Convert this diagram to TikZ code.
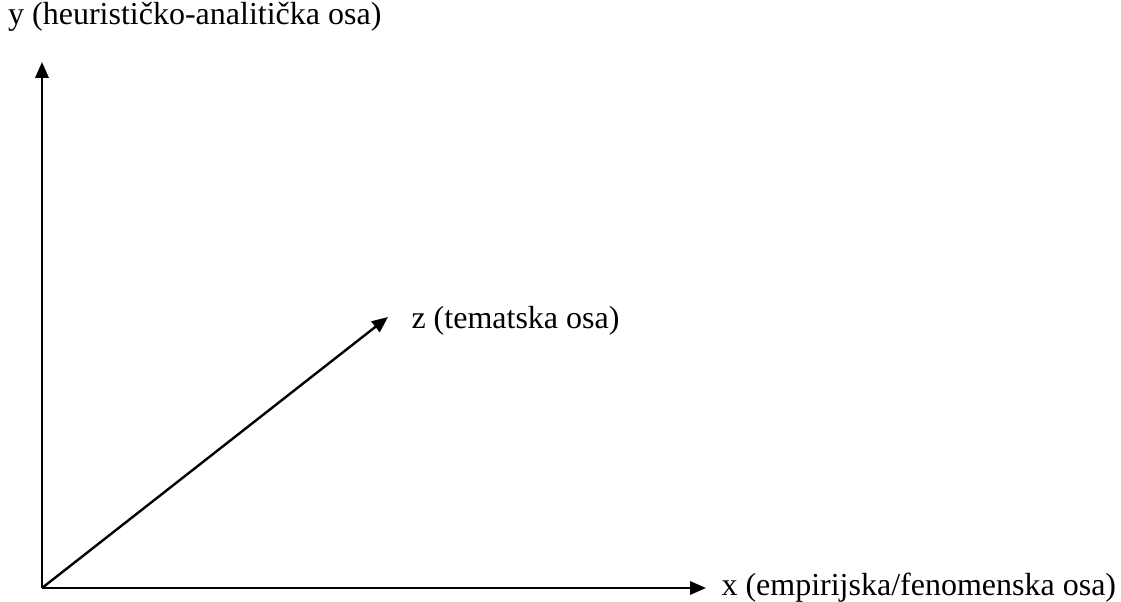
\documentclass[tikz,border=0pt]{standalone}
\usepackage{fontspec}
\setmainfont{Liberation Serif}
\usetikzlibrary{arrows.meta,positioning}

\tikzset{every picture/.style={line width=1.8pt}}
\tikzset{
  axis/.style={-{Triangle[length=12pt,width=10pt]}},
  axislabel/.style={inner sep=0.75pt,font=\fontsize{24}{28}\selectfont}
}

\begin{document}
\begin{tikzpicture}[x=0.75pt,y=0.75pt,yscale=-1,xscale=1]
\useasboundingbox (0,0) rectangle (1121,602);

% Axis points
\coordinate (origin) at (42,588);
\coordinate (ytip) at (42,62);
\coordinate (xtip) at (706,588);
\coordinate (ztip) at (388,317);

% Axes
\draw [axis] (origin) -- (ytip) ;
\draw [axis] (origin) -- (xtip) ;
\draw [axis] (origin) -- (ztip) ;

% Text Node
\node (ylabel) [axislabel, anchor=west] at (6,17) {y (heurističko-analitička osa)};
% Text Node
\node (zlabel) [axislabel, right=16pt of ztip, anchor=west, yshift=-3pt] {z (tematska osa)};
% Text Node
\node (xlabel) [axislabel, right=10pt of xtip, anchor=west] {x (empirijska/fenomenska osa)};

\end{tikzpicture}
\end{document}
